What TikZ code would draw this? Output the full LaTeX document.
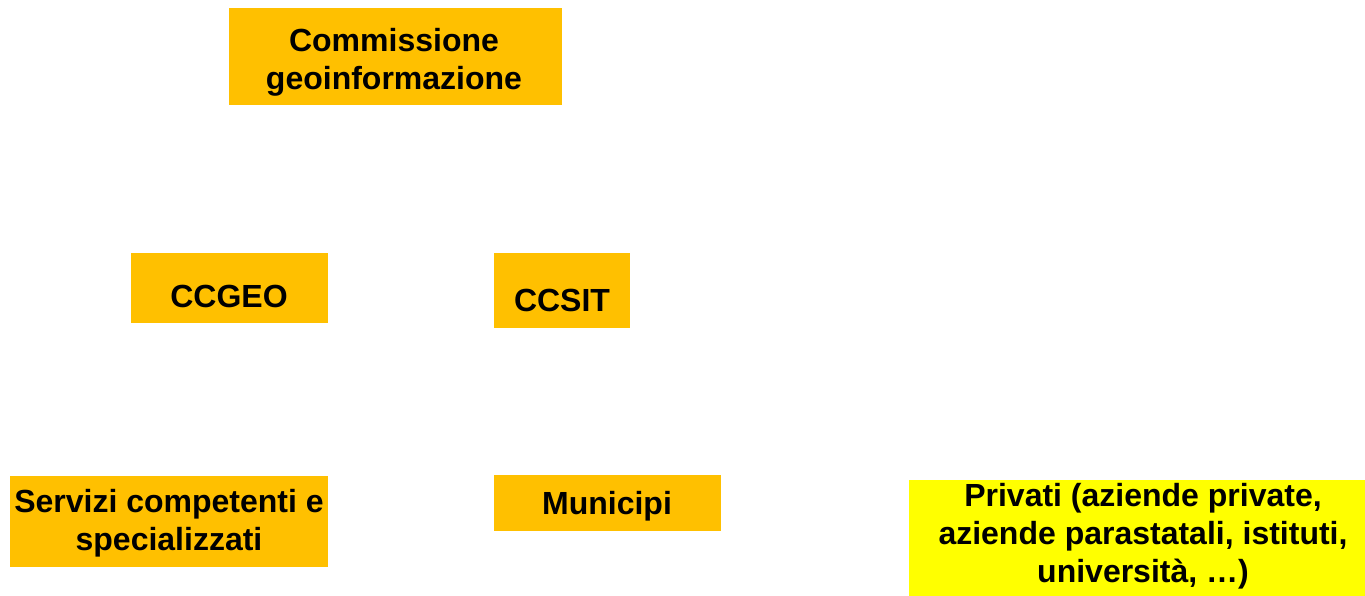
\documentclass[tikz,border=0pt]{standalone}
\usepackage{fontspec}
\setmainfont{Liberation Sans}
\usetikzlibrary{calc}
\definecolor{boxorange}{HTML}{FFC000}
\definecolor{boxyellow}{HTML}{FFFF00}

\begin{document}
\begin{tikzpicture}[
    x=1pt,
    y=-1pt,
    lbl/.style={font=\fontsize{32}{38}\selectfont\bfseries, align=center, inner sep=0pt},
]
    \useasboundingbox (0,0) rectangle (1365,596);
    % draw boxes
    \foreach \xa/\ya/\xb/\yb in {229/8/562/105, 131/253/328/323, 494/253/630/328, 10/476/328/567, 494/475/721/531} {%
        \fill [boxorange] (\xa,\ya) rectangle (\xb,\yb);
    }
    \fill [boxyellow] (909,480) rectangle (1365,596);
    % labels
    \node [lbl] (commissione) at (394,62) {Commissione\\geoinformazione};
    \node [lbl] (ccgeo) at (229,296) {CCGEO};
    \node [lbl] (ccsit) at (562,300) {CCSIT};
    \node [lbl] (servizi) at (169,523) {Servizi competenti e\\specializzati};
    \node [lbl] (municipi) at (607,506) {Municipi};
    \node [lbl] (privati) at (1143,536) {Privati (aziende private,\\aziende parastatali, istituti,\\università, …)};
\end{tikzpicture}
\end{document}
